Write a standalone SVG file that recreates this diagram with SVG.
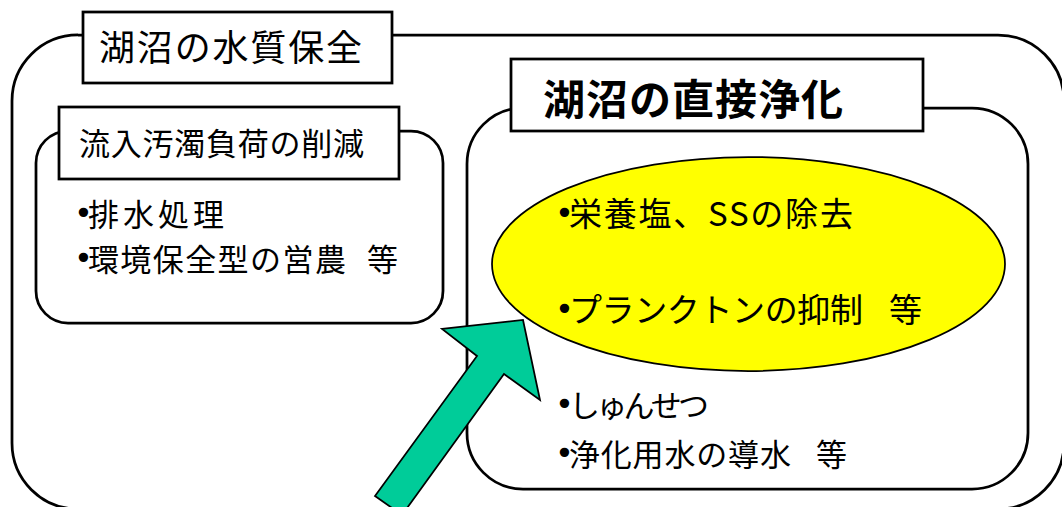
<svg xmlns="http://www.w3.org/2000/svg" width="1062" height="507" viewBox="0 0 1062 507">
  <style>
    .frame { fill: #ffffff; stroke: #000000; stroke-width: 2.75; }
    .label { fill: #ffffff; stroke: #000000; stroke-width: 2.75; }
    .t { font-family: "Noto Sans CJK JP", "Liberation Sans", sans-serif; fill: #000000; }
    .t31 { font-size: 31px; }
    .t33 { font-size: 33px; }
    .b { font-family: "DejaVu Sans", "Liberation Sans", sans-serif; font-size: 32px; letter-spacing: -5px; }
  </style>
  <rect width="1062" height="507" fill="#ffffff"/>
  <g id="outer">
    <rect class="frame" x="12" y="35" width="1052" height="474" rx="66" ry="66"/>
    <rect class="label" x="83" y="12" width="309" height="71"/>
    <text class="t" x="99" y="61" font-size="36" textLength="263" lengthAdjust="spacing">湖沼の水質保全</text>
  </g>
  <g id="load-reduction">
    <rect class="frame" x="36" y="131" width="407" height="192" rx="32" ry="32"/>
    <rect class="label" x="59" y="107" width="340" height="72"/>
    <text class="t t31" x="79" y="155" textLength="285" lengthAdjust="spacing">流入汚濁負荷の削減</text>
    <text class="t t31" x="74" y="226"><tspan class="b" dy="-2">•</tspan><tspan dy="2" textLength="136" lengthAdjust="spacing">排水処理</tspan></text>
    <text class="t t31" x="74" y="271"><tspan class="b" dy="-2">•</tspan><tspan dy="2" textLength="258" lengthAdjust="spacing">環境保全型の営農</tspan><tspan> </tspan><tspan x="367">等</tspan></text>
  </g>
  <g id="direct-purification">
    <rect class="frame" x="467" y="108" width="561" height="381" rx="56" ry="56"/>
    <rect class="label" x="511" y="59" width="412" height="72"/>
    <text class="t" x="543" y="115" font-size="42" font-weight="bold" textLength="300" lengthAdjust="spacing">湖沼の直接浄化</text>
    <ellipse cx="748.5" cy="264" rx="256.5" ry="107" fill="#ffff00" stroke="#000000" stroke-width="1.75"/>
    <text class="t t33" x="555" y="226"><tspan class="b" dy="-2">•</tspan><tspan dy="2" textLength="284" lengthAdjust="spacing">栄養塩、SSの除去</tspan></text>
    <text class="t t33" x="555" y="322"><tspan class="b" dy="-2">•</tspan><tspan dy="2" textLength="294" lengthAdjust="spacing">プランクトンの抑制</tspan><tspan> </tspan><tspan x="889">等</tspan></text>
    <text class="t t31" x="555" y="417"><tspan class="b" dy="-2">•</tspan><tspan dy="2" textLength="140" lengthAdjust="spacing">しゅんせつ</tspan></text>
    <text class="t t31" x="555" y="466"><tspan class="b" dy="-2">•</tspan><tspan dy="2" textLength="222" lengthAdjust="spacing">浄化用水の導水</tspan><tspan> </tspan><tspan x="816">等</tspan></text>
  </g>
  <g id="connectors">
    <polygon points="523,320 540,400 504,374 402,515 375,496 477,356 442,329" fill="#00cc99" stroke="#000000" stroke-width="1.75" stroke-linejoin="miter"/>
  </g>
</svg>
